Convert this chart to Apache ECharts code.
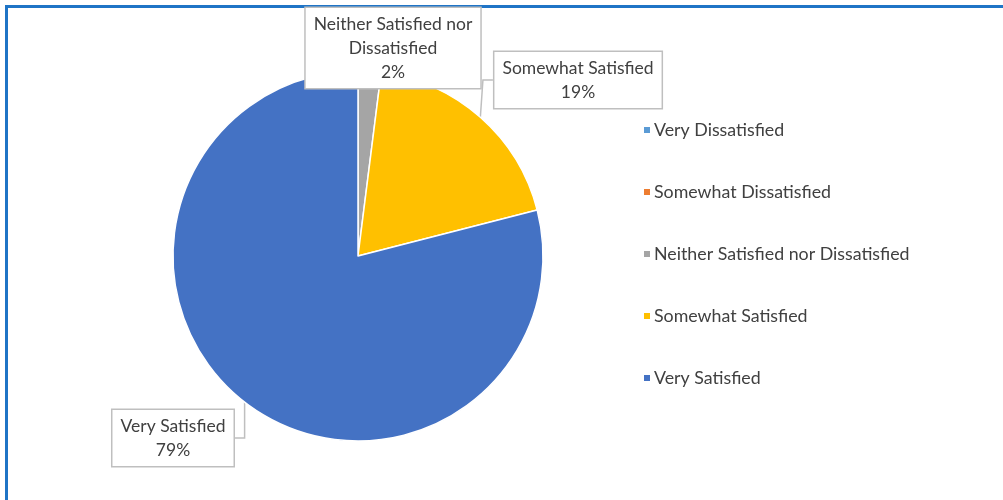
<!DOCTYPE html>
<html>
<head>
<meta charset="utf-8">
<script src="https://cdn.jsdelivr.net/npm/echarts@6/dist/echarts.min.js"></script>
<style>
  html, body { margin: 0; padding: 0; background: #ffffff; }
  #satisfaction { width: 1003px; height: 500px; }
</style>
</head>
<body>
<div id="satisfaction"></div>
<script>
// survey answers, share in percent
const categories = ['Very Dissatisfied', 'Somewhat Dissatisfied', 'Neither Satisfied nor Dissatisfied', 'Somewhat Satisfied', 'Very Satisfied'];
const shares = [0, 0, 2, 19, 79];
const colors = ['#5b9bd5', '#ed7d31', '#a5a5a5', '#ffc000', '#4472c4'];

// where the callout boxes sit (centre of the box)
const calloutPos = {
  'Neither Satisfied nor Dissatisfied': [393, 48],
  'Somewhat Satisfied': [578, 80],
  'Very Satisfied': [173, 438]
};

const font = 'Lato';
const chart = echarts.init(document.getElementById('satisfaction'));

const pieData = categories.map((name, i) => ({
  name: name,
  value: shares[i],
  label: { show: shares[i] > 0 },
  labelLine: { show: shares[i] > 0 }
}));

chart.setOption({
  animation: false,
  color: colors,
  graphic: [
    // frame, top and left edge only
    { type: 'rect', shape: { x: 5, y: 5, width: 998, height: 3 }, style: { fill: '#1f74c6' } },
    { type: 'rect', shape: { x: 5, y: 5, width: 3, height: 495 }, style: { fill: '#1f74c6' } }
  ],
  legend: {
    orient: 'vertical',
    left: 637,
    top: 115,
    icon: 'rect',
    itemWidth: 8,
    itemHeight: 8,
    itemGap: 42,
    data: categories,
    textStyle: { fontFamily: font, fontSize: 17.8, color: '#404040', lineHeight: 20, padding: [0, 0, 0, -2] }
  },
  series: [{
    name: 'Satisfaction',
    type: 'pie',
    center: [358, 256],
    radius: 185,
    startAngle: 90,
    clockwise: true,
    itemStyle: { borderColor: '#ffffff', borderWidth: 1.5 },
    label: {
      position: 'outside',
      fontFamily: font,
      fontSize: 17.5,
      color: '#404040',
      lineHeight: 24,
      align: 'center',
      backgroundColor: '#ffffff',
      borderColor: '#bfbfbf',
      borderWidth: 1.5,
      padding: [5, 8, 3, 8],
      formatter: function (p) {
        let name = p.name === 'Neither Satisfied nor Dissatisfied' ? 'Neither Satisfied nor\nDissatisfied' : p.name;
        return name + '\n' + Math.round(p.percent) + '%';
      }
    },
    labelLine: {
      length: 10,
      length2: 10,
      lineStyle: { color: '#bfbfbf', width: 1.5 }
    },
    labelLayout: function (params) {
      const name = categories[params.dataIndex];
      const pos = calloutPos[name];
      if (!pos) return {};
      return { x: pos[0], y: pos[1], align: 'center', verticalAlign: 'middle' };
    },
    data: pieData
  }]
});
</script>
</body>
</html>
